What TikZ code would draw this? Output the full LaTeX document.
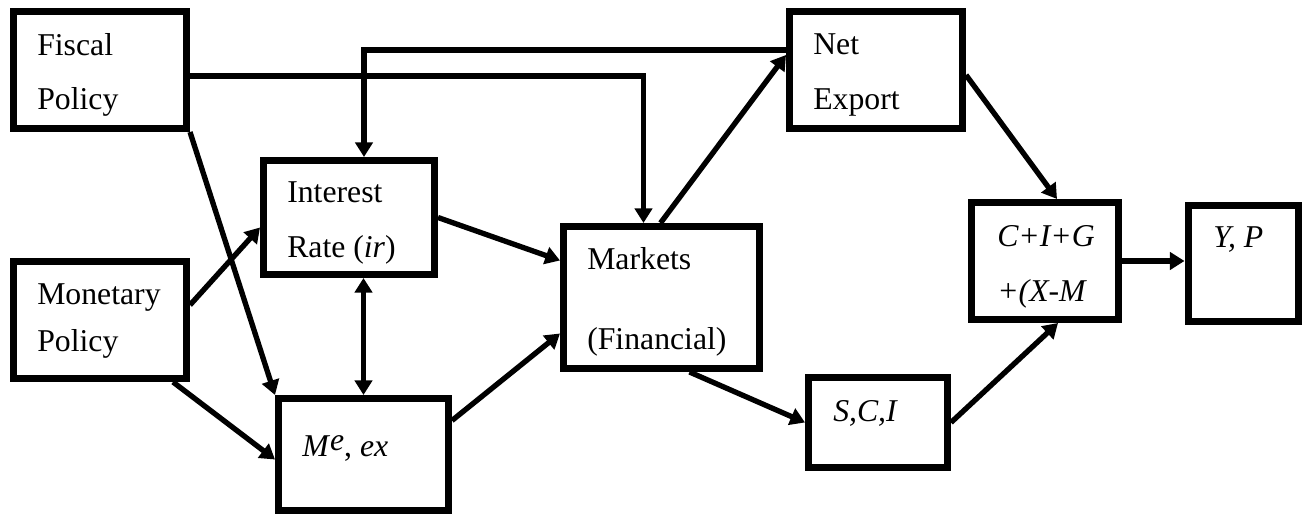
\documentclass[tikz,border=0pt]{standalone}
\usepackage{fontspec}
\setmainfont{Liberation Serif}
\usetikzlibrary{arrows.meta}
\begin{document}
\begin{tikzpicture}[x=0.75pt,y=-0.75pt,
  box/.style={draw=black,line width=5.25pt,inner sep=0pt,fill=none},
  conn/.style={line width=4pt,-{Triangle[length=11pt,width=13pt]}},
  both/.style={line width=4pt,{Triangle[length=11pt,width=13pt]}-{Triangle[length=11pt,width=13pt]}},
  txt/.style={anchor=base west,inner sep=0pt,font=\fontsize{23.8}{28}\selectfont}]
\useasboundingbox (0,0) rectangle (1304,516);
% boxes
\node[box,minimum width=129.75pt,minimum height=87.75pt] (fiscal) at (100,70) {};
\node[box,minimum width=129.75pt,minimum height=87.75pt] (monetary) at (100,320) {};
\node[box,minimum width=128.25pt,minimum height=85.5pt] (interest) at (349,217.5) {};
\node[box,minimum width=127.5pt,minimum height=84pt] (me) at (363.5,454.5) {};
\node[box,minimum width=147pt,minimum height=106.5pt] (markets) at (661.5,297.5) {};
\node[box,minimum width=129.75pt,minimum height=87.75pt] (netexport) at (876,70) {};
\node[box,minimum width=104.25pt,minimum height=67.5pt] (sci) at (878,422.5) {};
\node[box,minimum width=110.25pt,minimum height=87.75pt] (cig) at (1045,261) {};
\node[box,minimum width=82.5pt,minimum height=87pt] (yp) at (1243,263.5) {};
% texts
\node[txt] (t1) at (37,56) {Fiscal};
\node[txt] (t2) at (37,110) {Policy};
\node[txt] (t3) at (287,203) {Interest};
\node[txt] (t4) at (287,258) {Rate (\textit{ir})};
\node[txt] (t5) at (37,305) {Monetary};
\node[txt] (t6) at (37,352) {Policy};
\node[txt] (t7) at (302,457) {\textit{M}\raisebox{4.5pt}{\textit{e}}, \textit{ex}};
\node[txt] (t8) at (587,270) {Markets};
\node[txt] (t9) at (587,350) {(Financial)};
\node[txt] (t10) at (813,55) {Net};
\node[txt] (t11) at (813,110) {Export};
\node[txt] (t12) at (833,422) {\textit{S,C,I}};
\node[txt] (t13) at (997,247) {\textit{C+I+G}};
\node[txt] (t14) at (997,302) {\textit{+(X-M}};
\node[txt] (t15) at (1213,248) {\textit{Y, P}};
% connectors
\draw[conn] ([shift={(0,-20)}]netexport.west) -| ([shift={(15,0)}]interest.north);
\draw[conn] ([shift={(0,6)}]fiscal.east) -| ([shift={(-18,0)}]markets.north);
\draw[conn] ([shift={(-1,0)}]markets.north) -- ([shift={(0,-15)}]netexport.west);
\draw[conn] (fiscal.south east) -- (me.north west);
\draw[conn] ([shift={(0,-15)}]monetary.east) -- ([shift={(0,10)}]interest.west);
\draw[conn] ([shift={(73,0)}]monetary.south) -- ([shift={(0,5)}]me.west);
\draw[both] (me.north |- interest.south) -- (me.north);
\draw[conn] (interest.east) -- ([shift={(0,-37)}]markets.west);
\draw[conn] ([shift={(0,-34)}]me.east) -- ([shift={(0,36)}]markets.west);
\draw[conn] ([shift={(28,0)}]markets.south) -- (sci.west);
\draw[conn] ([shift={(0,5)}]netexport.east) -- ([shift={(12,0)}]cig.north);
\draw[conn] (sci.east) -- ([shift={(13,0)}]cig.south);
\draw[conn] (cig.east) -- (cig.east -| yp.west);
\end{tikzpicture}
\end{document}
